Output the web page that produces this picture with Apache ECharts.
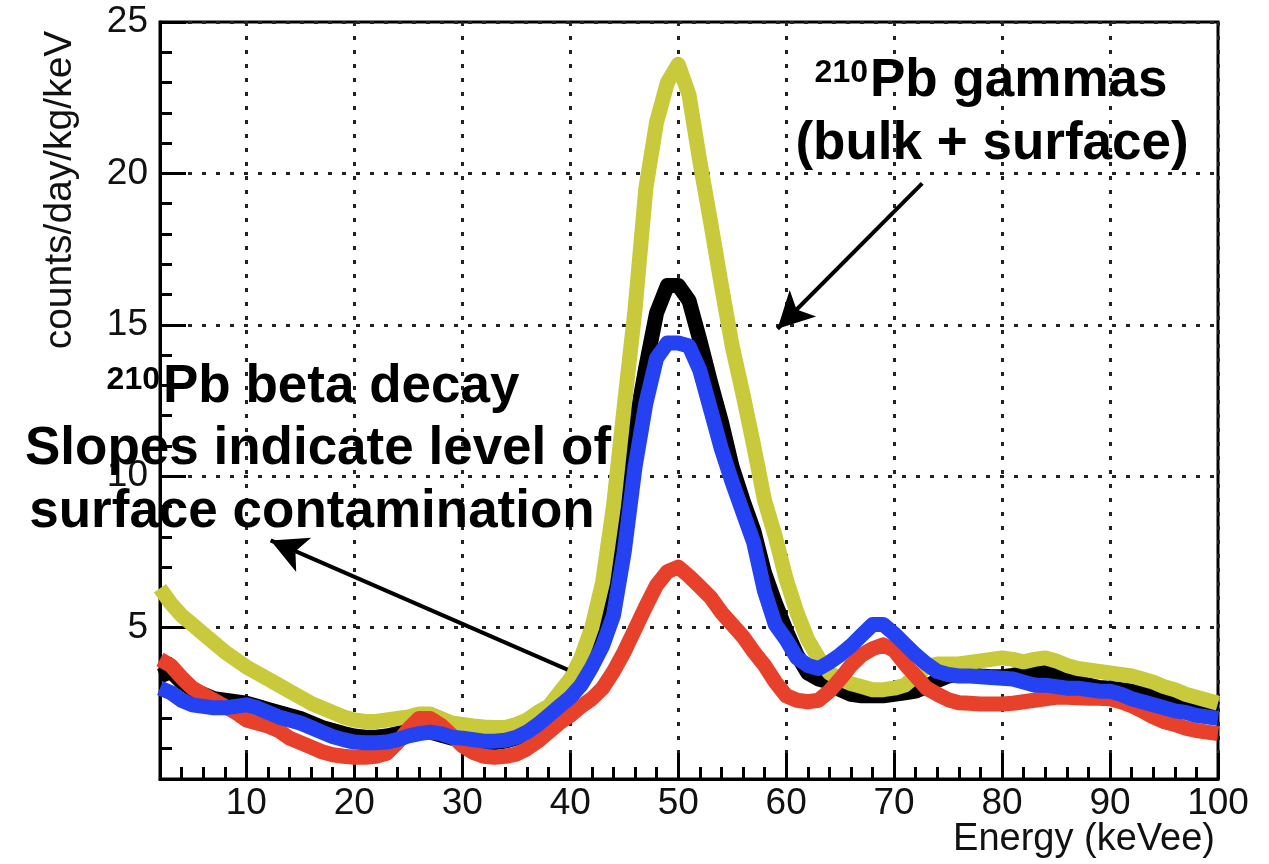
<!DOCTYPE html>
<html><head><meta charset="utf-8">
<script src="https://cdn.jsdelivr.net/npm/echarts@6/dist/echarts.min.js"></script>
<style>html,body{margin:0;padding:0;background:#fff}#c{width:1269px;height:864px}</style>
</head><body><div id="c"></div>
<script>
// Energy bin centres (keVee)
const energy = [2,3,4,5,6,7,8,9,10,11,12,13,14,15,16,17,18,19,20,21,22,23,24,25,26,27,28,29,30,31,32,33,34,35,36,37,38,39,40,41,42,43,44,45,46,47,48,49,50,51,52,53,54,55,56,57,58,59,60,61,62,63,64,65,66,67,68,69,70,71,72,73,74,75,76,77,78,79,80,81,82,83,84,85,86,87,88,89,90,91,92,93,94,95,96,97,98,99,100];

const yellowRate = [6.3,5.8,5.4,5.1,4.8,4.5,4.2,3.95,3.7,3.5,3.3,3.1,2.9,2.7,2.5,2.35,2.2,2.05,1.95,1.9,1.9,1.95,2.0,2.05,2.15,2.15,2.0,1.85,1.8,1.75,1.72,1.7,1.7,1.8,1.95,2.2,2.4,2.85,3.3,4.0,5.0,6.5,9.0,12.3,15.5,19.5,21.7,23.0,23.6,22.6,20.4,18.4,16.3,14.3,12.7,11.0,9.2,8.0,6.6,5.5,4.6,4.0,3.5,3.3,3.15,3.05,2.95,2.95,3.0,3.1,3.4,3.7,3.8,3.8,3.8,3.85,3.9,3.95,4.0,3.95,3.87,3.95,4.0,3.9,3.75,3.65,3.6,3.55,3.5,3.45,3.4,3.3,3.2,3.05,2.95,2.8,2.7,2.6,2.5];

const blackRate = [3.4,3.55,3.2,2.95,2.8,2.65,2.6,2.55,2.5,2.4,2.3,2.2,2.1,2.0,1.85,1.7,1.6,1.5,1.42,1.38,1.38,1.42,1.5,1.58,1.6,1.55,1.45,1.35,1.28,1.25,1.2,1.2,1.25,1.35,1.55,1.8,2.1,2.45,2.9,3.6,4.4,5.5,7.0,9.5,11.6,13.6,15.4,16.3,16.3,15.8,14.5,13.1,11.8,10.3,9.2,8.2,6.8,5.8,4.9,4.1,3.5,3.3,3.2,2.95,2.8,2.75,2.75,2.75,2.8,2.85,2.9,3.05,3.25,3.4,3.45,3.45,3.4,3.38,3.38,3.42,3.5,3.6,3.55,3.4,3.3,3.2,3.1,3.02,3.0,2.95,2.9,2.85,2.8,2.75,2.7,2.6,2.5,2.4,2.3];

const redRate = [3.95,3.75,3.35,3.0,2.8,2.6,2.4,2.2,1.95,1.85,1.75,1.6,1.35,1.2,1.05,0.9,0.8,0.75,0.72,0.72,0.75,0.85,1.2,1.65,2.0,2.0,1.78,1.45,1.1,0.88,0.75,0.72,0.75,0.82,1.0,1.25,1.55,1.85,2.1,2.4,2.65,3.0,3.55,4.2,4.95,5.7,6.4,6.85,7.0,6.7,6.35,6.0,5.5,5.1,4.7,4.2,3.75,3.2,2.75,2.6,2.55,2.6,2.9,3.3,3.75,4.1,4.3,4.43,4.25,3.8,3.4,3.0,2.8,2.62,2.52,2.5,2.48,2.48,2.48,2.5,2.55,2.6,2.65,2.7,2.7,2.68,2.67,2.67,2.65,2.55,2.42,2.25,2.05,1.9,1.8,1.68,1.6,1.55,1.5];

const blueRate = [3.0,2.85,2.6,2.45,2.4,2.35,2.35,2.4,2.45,2.35,2.2,2.05,1.95,1.85,1.7,1.55,1.4,1.3,1.22,1.2,1.2,1.22,1.3,1.42,1.5,1.55,1.5,1.38,1.35,1.3,1.25,1.25,1.28,1.38,1.55,1.8,2.1,2.4,2.7,3.1,3.7,4.4,5.4,7.5,10.3,12.4,13.9,14.4,14.4,14.3,13.5,12.2,10.9,9.8,8.8,7.8,6.2,5.1,4.6,4.0,3.75,3.65,3.85,4.1,4.4,4.75,5.1,5.1,4.8,4.45,4.1,3.8,3.55,3.45,3.4,3.4,3.38,3.35,3.33,3.3,3.2,3.1,3.1,3.05,3.0,3.0,2.95,2.9,2.9,2.8,2.65,2.55,2.45,2.35,2.25,2.2,2.1,2.05,2.0];

const xTickLabels = [10,20,30,40,50,60,70,80,90,100];
const xMinorTicks = [4,6,8,12,14,16,18,22,24,26,28,32,34,36,38,42,44,46,48,52,54,56,58,62,64,66,68,72,74,76,78,82,84,86,88,92,94,96,98];

// Annotation arrows in data coordinates [energy, rate]
const gammaArrowFrom = [72.6, 19.67];
const gammaArrowTo = [59.2, 14.87];
const betaArrowFrom = [39.74, 3.61];
const betaArrowTo = [12.25, 7.88];

const FONT = '"Liberation Sans", Arial, Helvetica, sans-serif';
const pairs = v => energy.map((e, i) => [e, v[i]]);

const chart = echarts.init(document.getElementById('c'), null, {renderer: 'canvas'});

const dotted = {type: [4, 10], color: '#222', width: 3};
const lineSeries = (name, color, vals, extra) => Object.assign({
  name, type: 'line', data: pairs(vals), showSymbol: false,
  symbol: 'none', xAxisIndex: 0, yAxisIndex: 0,
  lineStyle: {color, width: 15, join: 'round', cap: 'butt'},
  itemStyle: {color}, emphasis: {disabled: true}, silent: true
}, extra || {});

chart.setOption({
  animation: false,
  backgroundColor: '#fff',
  grid: {left: 160, right: 51, top: 22, bottom: 85, show: true, borderColor: '#000', borderWidth: 3, backgroundColor: 'transparent'},
  xAxis: [{
    type: 'value', min: 2, max: 100,
    axisLine: {show: true, onZero: false, lineStyle: {color: '#000', width: 3}},
    axisTick: {show: true, inside: true, length: 26, customValues: xTickLabels, lineStyle: {color: '#000', width: 3}},
    axisLabel: {show: true, customValues: xTickLabels, fontSize: 37, fontFamily: FONT, color: '#111', margin: 6},
    splitLine: {show: true, lineStyle: dotted}
  }, {
    type: 'value', min: 2, max: 100, position: 'bottom',
    axisLine: {show: false},
    axisTick: {show: true, inside: true, length: 12, customValues: xMinorTicks, lineStyle: {color: '#000', width: 3}},
    axisLabel: {show: false},
    splitLine: {show: false}
  }],
  yAxis: {
    type: 'value', min: 0, max: 25, interval: 5,
    axisLine: {show: true, onZero: false, lineStyle: {color: '#000', width: 3}},
    axisTick: {show: true, inside: true, length: 26, lineStyle: {color: '#000', width: 3}},
    minorTick: {show: true, splitNumber: 5, length: 12, lineStyle: {color: '#000', width: 3}},
    axisLabel: {showMinLabel: false, fontSize: 37, fontFamily: FONT, color: '#111', margin: 12},
    splitLine: {show: true, lineStyle: dotted}
  },
  series: [
    lineSeries('black', '#000000', blackRate, {
      markLine: {
        silent: true, symbol: ['none', 'arrow'], symbolSize: [28, 36],
        label: {show: false}, emphasis: {disabled: true}, animation: false,
        lineStyle: {color: '#000', width: 4, type: 'solid'},
        itemStyle: {color: '#000'},
        data: [
          [{coord: gammaArrowFrom}, {coord: gammaArrowTo}],
          [{coord: betaArrowFrom}, {coord: betaArrowTo}]
        ]
      }
    }),
    lineSeries('yellow', '#c9c93c', yellowRate),
    lineSeries('red', '#e8412b', redRate),
    lineSeries('blue', '#2542f2', blueRate)
  ],
  graphic: [
    {type: 'text', x: 60, y: 190, rotation: Math.PI / 2, z: 100,
      style: {text: 'counts/day/kg/keV', font: '39px ' + FONT, fill: '#111', align: 'center', verticalAlign: 'middle'}},
    {type: 'text', x: 1215, y: 840, z: 100,
      style: {text: 'Energy (keVee)', font: '38px ' + FONT, fill: '#111', align: 'right', verticalAlign: 'middle'}},
    {type: 'text', x: 868, y: 73, z: 100,
      style: {text: '210', font: 'bold 32px ' + FONT, fill: '#000', align: 'right', verticalAlign: 'middle'}},
    {type: 'text', x: 870, y: 81, z: 100,
      style: {text: 'Pb gammas', font: 'bold 53px ' + FONT, fill: '#000', align: 'left', verticalAlign: 'middle'}},
    {type: 'text', x: 992, y: 144, z: 100,
      style: {text: '(bulk + surface)', font: 'bold 53px ' + FONT, fill: '#000', align: 'center', verticalAlign: 'middle'}},
    {type: 'text', x: 160, y: 380, z: 100,
      style: {text: '210', font: 'bold 32px ' + FONT, fill: '#000', align: 'right', verticalAlign: 'middle'}},
    {type: 'text', x: 163, y: 387, z: 100,
      style: {text: 'Pb beta decay', font: 'bold 53px ' + FONT, fill: '#000', align: 'left', verticalAlign: 'middle'}},
    {type: 'text', x: 318, y: 449, z: 100,
      style: {text: 'Slopes indicate level of', font: 'bold 53px ' + FONT, fill: '#000', align: 'center', verticalAlign: 'middle'}},
    {type: 'text', x: 312, y: 512, z: 100,
      style: {text: 'surface contamination', font: 'bold 53px ' + FONT, fill: '#000', align: 'center', verticalAlign: 'middle'}}
  ]
});
</script>
</body></html>
